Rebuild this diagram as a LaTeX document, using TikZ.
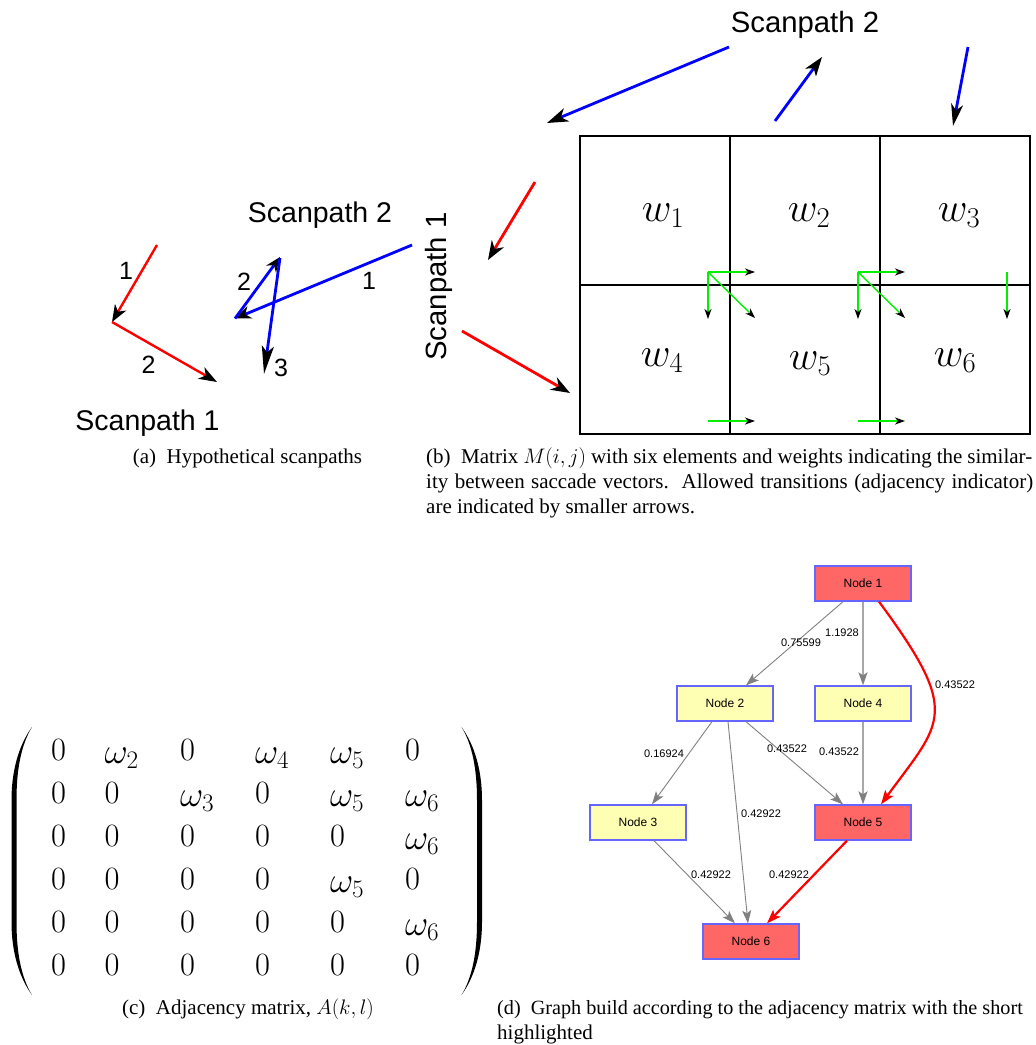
\RequirePackage{fix-cm}
\documentclass[tikz,border=0pt]{standalone}
\usepackage{fontspec}
\setmainfont{Liberation Serif}
\newfontfamily\helv{Liberation Sans}
\usetikzlibrary{arrows.meta}
\definecolor{nodered}{RGB}{255,102,102}
\definecolor{nodeyellow}{RGB}{255,255,179}
\definecolor{nodeborder}{RGB}{102,102,255}
\definecolor{edgegray}{RGB}{128,128,128}
\definecolor{edgelight}{RGB}{168,168,168}
\definecolor{trgreen}{RGB}{0,240,0}
\tikzset{
  scan/.style={font=\helv\fontsize{28.5}{34}\selectfont, inner sep=0pt, anchor=base},
  scanb/.style={font=\helv\fontsize{29.3}{35}\selectfont, inner sep=0pt, anchor=base},
  num/.style={font=\helv\fontsize{25}{30}\selectfont, inner sep=0pt, anchor=base},
  sacr/.style={red, line width=2.4pt},
  sacb/.style={blue, line width=2.8pt},
  gridl/.style={black, line width=1.2pt},
  wlab/.style={font=\fontsize{41}{48}\selectfont, inner sep=0pt, anchor=base},
  trans/.style={trgreen, line width=1.4pt, -{Stealth[color=black,length=10pt,width=7pt,inset=3pt]}},
  mat0/.style={font=\fontsize{32.5}{38}\selectfont, inner sep=0pt, anchor=base west},
  matw/.style={font=\fontsize{36}{42}\selectfont, inner sep=0pt, anchor=base west},
  gnode/.style={draw=nodeborder, line width=1.3pt, minimum width=96pt, minimum height=35pt, inner sep=0pt, font=\helv\fontsize{12}{14}\selectfont},
  redn/.style={gnode, fill=nodered},
  yeln/.style={gnode, fill=nodeyellow},
  ge/.style={edgegray, line width=0.9pt, -{Stealth[length=13pt,width=9pt,inset=3pt]}},
  gel/.style={edgelight, line width=1.8pt, -{Stealth[color=edgegray,length=13pt,width=9pt,inset=3pt]}},
  rede/.style={red, line width=2.2pt, -{Stealth[length=14pt,width=10pt,inset=3pt]}},
  elab/.style={font=\helv\fontsize{11}{13}\selectfont, inner sep=0pt},
  captxt/.style={font=\fontsize{21}{25}\selectfont, inner sep=0pt},
  paren/.style={fill=black, draw=none}
}
\begin{document}
\begin{tikzpicture}[x=1pt,y=-1pt]
\useasboundingbox (0,0) rectangle (1036,1045);

% ---------------- panel (a)
\coordinate (ar0) at (157,245);
\coordinate (ar1) at (112,322);
\coordinate (ar2) at (217,382);
\draw[sacr, -{Stealth[color=black,length=17pt,width=13pt,inset=5pt]}] (ar0) -- (ar1);
\draw[sacr, -{Stealth[color=black,length=18pt,width=13pt,inset=5pt]}] (ar1) -- (ar2);
\node[num] (la1) at (126,279) {1};
\node[num] (la2) at (148.5,373) {2};
\node[scan] (lsp1) at (147.5,430) {Scanpath 1};

\coordinate (ab0) at (412,245);
\coordinate (ab1) at (235,318.5);
\coordinate (ab2) at (280,257);
\coordinate (ab2b) at (280,258);
\coordinate (ab3) at (264,374);
\draw[sacb, -{Stealth[color=black,length=16pt,width=13pt,inset=5pt]}] (ab0) -- (ab1);
\draw[sacb, -{Stealth[color=black,length=15pt,width=12pt,inset=5pt]}] (ab1) -- (ab2);
\draw[sacb, -{Stealth[color=black,length=28pt,width=12pt,inset=6pt]}] (ab2b) -- (ab3);
\node[num] (lb1) at (369,289.5) {1};
\node[num] (lb2) at (244,290) {2};
\node[num] (lb3) at (281,376.5) {3};
\node[scan] (lsp2) at (320,222) {Scanpath 2};

% ---------------- panel (b)
\node[scanb] (bsp2) at (805,32) {Scanpath 2};
\node[scanb, rotate=90] (bsp1) at (446.5,286.5) {Scanpath 1};

\coordinate (bb0) at (729,47);
\coordinate (bb1) at (547,123);
\coordinate (bb2) at (775,121);
\coordinate (bb3) at (822,57);
\coordinate (bb4) at (968,47);
\coordinate (bb5) at (953,126);
\draw[sacb, -{Stealth[color=black,length=21pt,width=14pt,inset=6pt]}] (bb0) -- (bb1);
\draw[sacb, -{Stealth[color=black,length=19pt,width=13pt,inset=5pt]}] (bb2) -- (bb3);
\draw[sacb, -{Stealth[color=black,length=22pt,width=12pt,inset=6pt]}] (bb4) -- (bb5);

\coordinate (br0) at (535,182);
\coordinate (br1) at (488,260);
\coordinate (br2) at (462,331);
\coordinate (br3) at (570,393);
\draw[sacr, line width=2.8pt, -{Stealth[color=black,length=19pt,width=14pt,inset=6pt]}] (br0) -- (br1);
\draw[sacr, line width=2.8pt, -{Stealth[color=black,length=19pt,width=14pt,inset=6pt]}] (br2) -- (br3);

\draw[gridl] (580,136) rectangle (1030,434);
\draw[gridl] (730,136) -- (730,434);
\draw[gridl] (880,136) -- (880,434);
\draw[gridl] (580,285) -- (1030,285);

\node[wlab] (w1) at (663,221.5) {$w_1$};
\node[wlab] (w2) at (809,221.5) {$w_2$};
\node[wlab] (w3) at (959,221.5) {$w_3$};
\node[wlab] (w4) at (662,366) {$w_4$};
\node[wlab] (w5) at (810,369) {$w_5$};
\node[wlab] (w6) at (955,366) {$w_6$};

\coordinate (g1) at (708,272);
\coordinate (g1r) at (755,272);
\coordinate (g1d) at (708,319);
\coordinate (g1x) at (755,318);
\coordinate (g2) at (858,272);
\coordinate (g2r) at (905,272);
\coordinate (g2d) at (858,319);
\coordinate (g2x) at (905,318);
\coordinate (g3) at (1007,272);
\coordinate (g3d) at (1007,319);
\coordinate (g4) at (708,421);
\coordinate (g4r) at (755,421);
\coordinate (g5) at (858,421);
\coordinate (g5r) at (905,421);
\draw[trans] (g1) -- (g1r);
\draw[trans] (g1) -- (g1d);
\draw[trans] (g1) -- (g1x);
\draw[trans] (g2) -- (g2r);
\draw[trans] (g2) -- (g2d);
\draw[trans] (g2) -- (g2x);
\draw[trans] (g3) -- (g3d);
\draw[trans] (g4) -- (g4r);
\draw[trans] (g5) -- (g5r);

% ---------------- panel (c)
\fill[paren] (32,727) .. controls (19,745) and (11.5,770) .. (11.5,800) -- (11.5,922)
  .. controls (11.5,952) and (19,977) .. (32,995)
  .. controls (21,977) and (16.5,952) .. (16.5,922) -- (16.5,800)
  .. controls (16.5,770) and (21,745) .. (32,727) -- cycle;
\fill[paren] (461.5,727) .. controls (474.5,745) and (482,770) .. (482,800) -- (482,922)
  .. controls (482,952) and (474.5,977) .. (461.5,995)
  .. controls (472.5,977) and (477,952) .. (477,922) -- (477,800)
  .. controls (477,770) and (472.5,745) .. (461.5,727) -- cycle;

\foreach \row [count=\r] in {{0,2,0,4,5,0},{0,0,3,0,5,6},{0,0,0,0,0,6},{0,0,0,0,5,0},{0,0,0,0,0,6},{0,0,0,0,0,0}}{
  \foreach \e [count=\c] in \row {
    \pgfmathsetmacro{\xx}{{51,104.5,180,255,330,405}[\c-1]}
    \pgfmathsetmacro{\yy}{717+43*\r}
    \ifnum\e=0
      \node[mat0] (m\r\c) at (\xx,\yy) {$0$};
    \else
      \node[matw] (m\r\c) at (\xx,\yy+3) {$\omega_{\e}$};
    \fi
  }
}

% ---------------- panel (d)
\node[redn] (n1) at (863,583.5) {Node 1};
\node[yeln] (n2) at (725,703.5) {Node 2};
\node[yeln] (n4) at (863,703.5) {Node 4};
\node[yeln] (n3) at (638,822.5) {Node 3};
\node[redn] (n5) at (863,822.5) {Node 5};
\node[redn] (n6) at (751,941.5) {Node 6};

\draw[ge] ([xshift=-20pt]n1.south) -- ([xshift=21pt]n2.north);
\draw[gel] (n1.south) -- (n4.north);
\draw[rede] ([xshift=16pt]n1.south) .. controls (962,714) and (942,721) .. ([xshift=18pt]n5.north);
\draw[ge] ([xshift=-13pt]n2.south) -- ([xshift=14pt]n3.north);
\draw[ge] ([xshift=3pt]n2.south) -- ([xshift=-3pt]n6.north);
\draw[ge] ([xshift=21pt]n2.south) -- ([xshift=-20pt]n5.north);
\draw[gel] (n4.south) -- (n5.north);
\draw[ge] ([xshift=16pt]n3.south) -- ([xshift=-16pt]n6.north);
\draw[rede] ([xshift=-16pt]n5.south) -- ([xshift=16pt]n6.north);

\node[elab] (e12) at (801,643) {0.75599};
\node[elab] (e14) at (842,633) {1.1928};
\node[elab] (e15) at (955,685) {0.43522};
\node[elab] (e23) at (664,754) {0.16924};
\node[elab] (e25) at (787,749) {0.43522};
\node[elab] (e45) at (839,752) {0.43522};
\node[elab] (e26) at (761,814) {0.42922};
\node[elab] (e36) at (711,875) {0.42922};
\node[elab] (e56) at (789,875) {0.42922};

% ---------------- captions
\node[captxt, anchor=base] (capa) at (247.5,463) {(a)\enspace Hypothetical scanpaths};
\node[captxt, anchor=base west] (capb1) at (426,463) {\makebox[606pt][s]{(b)\enspace Matrix $M(i,j)$ with six elements and weights indicating the similar-}};
\node[captxt, anchor=base west] (capb2) at (426,488) {\makebox[607pt][s]{ity between saccade vectors.\ \ Allowed transitions (adjacency indicator)}};
\node[captxt, anchor=base west] (capb3) at (426,513) {are indicated by smaller arrows.};
\node[captxt, anchor=base] (capc) at (248,1014) {(c)\enspace Adjacency matrix, $A(k,l)$};
\node[captxt, anchor=base west, font=\fontsize{20.2}{25}\selectfont] (capd1) at (497,1014) {(d)\enspace Graph build according to the adjacency matrix with the short};
\node[captxt, anchor=base west] (capd2) at (497,1039) {highlighted};
\end{tikzpicture}
\end{document}
